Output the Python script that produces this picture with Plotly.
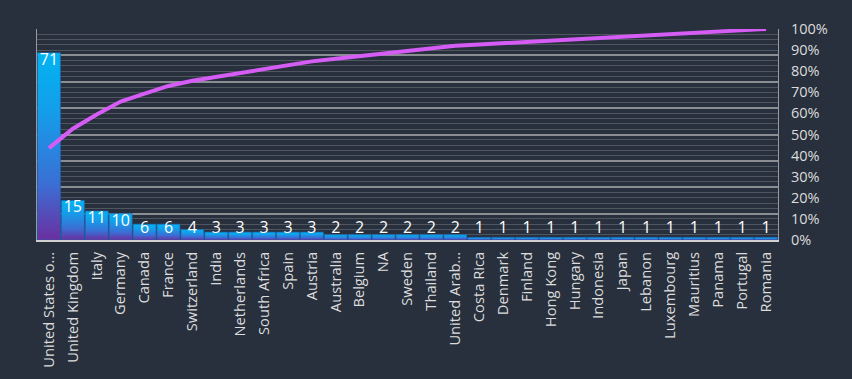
import plotly.graph_objects as go

categories = ["United States o...", "United Kingdom", "Italy", "Germany", "Canada", "France",
              "Switzerland", "India", "Netherlands", "South Africa", "Spain", "Austria",
              "Australia", "Belgium", "NA", "Sweden", "Thailand", "United Arab...",
              "Costa Rica", "Denmark", "Finland", "Hong Kong", "Hungary", "Indonesia",
              "Japan", "Lebanon", "Luxembourg", "Mauritius", "Panama", "Portugal", "Romania"]
counts = [71, 15, 11, 10, 6, 6, 4, 3, 3, 3, 3, 3, 2, 2, 2, 2, 2, 2,
          1, 1, 1, 1, 1, 1, 1, 1, 1, 1, 1, 1, 1]
pct_ticks = [0, 0.1, 0.2, 0.3, 0.4, 0.5, 0.6, 0.7, 0.8, 0.9, 1.0]

total = sum(counts)
cum = []
s = 0
for v in counts:
    s += v
    cum.append(s / total)

BG = "#28303d"
FONT = "Open Sans"
half = 0.48

fig = go.Figure()

# gradient bars
for i, v in enumerate(counts):
    fig.add_trace(go.Scatter(
        x=[i - half, i + half, i + half, i - half, i - half],
        y=[0, 0, v, v, 0],
        mode="lines", fill="toself",
        line=dict(color="rgba(30,100,180,0.9)", width=0.8),
        fillgradient=dict(type="vertical",
                          colorscale=[[0, "#6b2fa0"], [0.3, "#3a6fd5"],
                                      [0.7, "#139fea"], [1, "#02b3f2"]]),
        hoverinfo="skip", showlegend=False,
    ))

# data labels
label_y = [max(v, 7.3) for v in counts]
fig.add_trace(go.Scatter(
    x=list(range(len(counts))), y=label_y, mode="text",
    text=[str(v) for v in counts], textposition="bottom center",
    textfont=dict(color="white", size=16, family=FONT),
    showlegend=False, hoverinfo="skip",
))

# cumulative line
fig.add_trace(go.Scatter(
    x=list(range(len(counts))), y=cum, yaxis="y2", mode="lines",
    line=dict(color="#d65cf6", width=4), showlegend=False,
))

fig.update_layout(
    width=852, height=379,
    paper_bgcolor=BG, plot_bgcolor=BG,
    margin=dict(l=37, r=74, t=29, b=139),
    font=dict(family=FONT, size=14, color="#d9d9d9"),
    xaxis=dict(
        range=[-0.5, len(counts) - 0.5], automargin=False,
        tickvals=list(range(len(counts))), ticktext=categories,
        tickangle=-90, showgrid=False, zeroline=False,
        showline=True, linecolor="#d0d0d0", linewidth=2, mirror=False,
        ticks="", ticklabelstandoff=4, tickfont=dict(size=14.7, color="#dcdcdc"),
    ),
    yaxis=dict(
        range=[0, 80], dtick=10, showticklabels=False, automargin=False,
        showgrid=True, gridcolor="#8a8d92", gridwidth=1.5,
        minor=dict(dtick=2, showgrid=True, gridcolor="#505660", gridwidth=1),
        zeroline=False, showline=True, linecolor="#9a9a9a", mirror=True,
    ),
    yaxis2=dict(
        overlaying="y", side="right", range=[0, 1], automargin=False,
        tickvals=pct_ticks, tickformat=".0%", showgrid=False, zeroline=False,
        ticks="", ticklabelstandoff=12, tickfont=dict(size=14.5, color="#dcdcdc"),
    ),
)

fig.write_html("out.html", config={"displayModeBar": False},
               post_script="document.body.style.margin='0';document.body.style.background='%s';" % BG)
